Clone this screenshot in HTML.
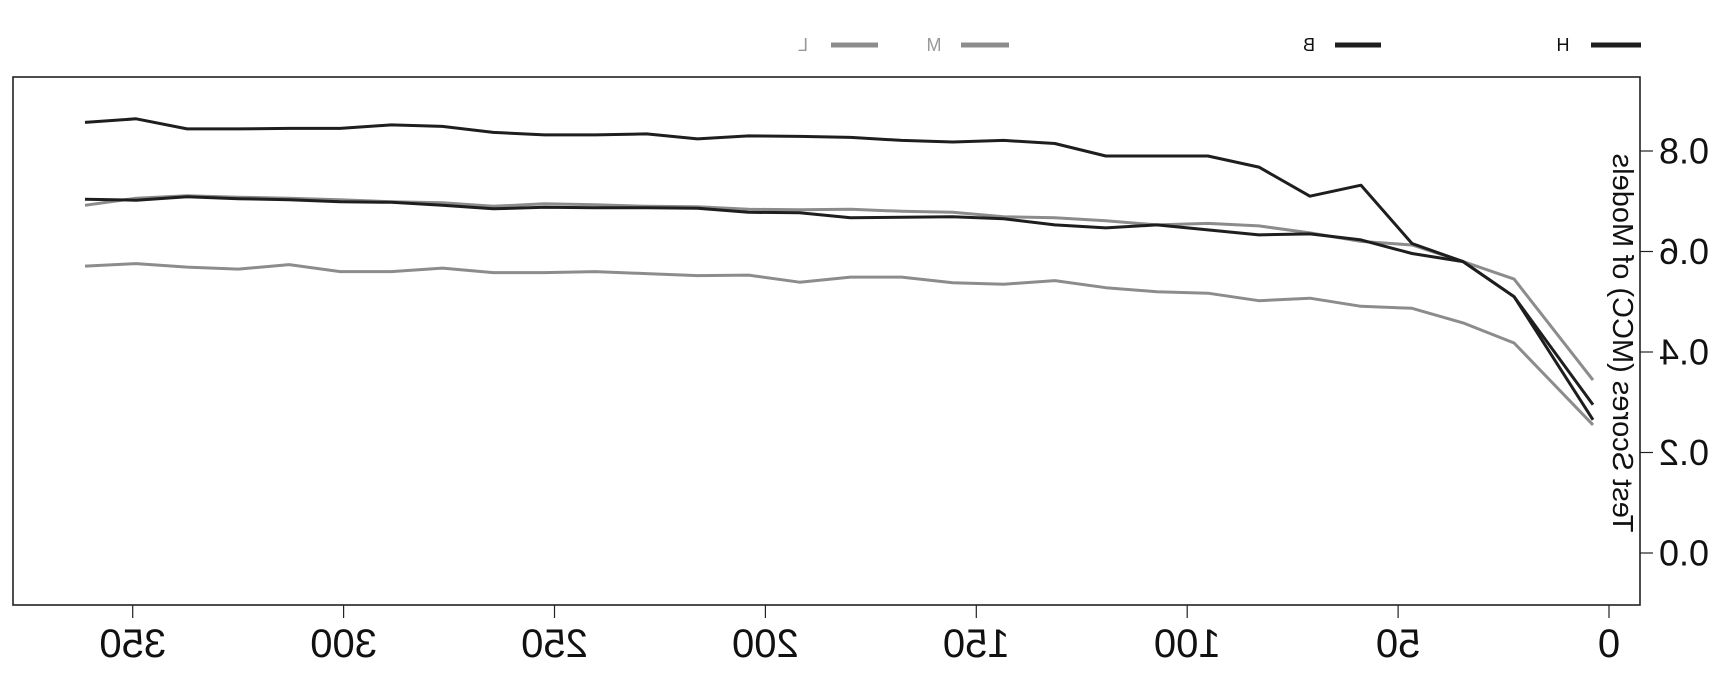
<!DOCTYPE html>
<html><head><meta charset="utf-8"><style>
html,body{margin:0;padding:0;background:#fff;}
svg{display:block;font-family:"Liberation Sans","DejaVu Sans",sans-serif;}
</style></head>
<body>
<svg id="chart" width="1732" height="696" viewBox="0 0 1732 696" xmlns="http://www.w3.org/2000/svg">
<rect x="13" y="77" width="1627" height="528" fill="none" stroke="#222" stroke-width="1.6"/>
<g id="axes"></g>
<g id="series"></g>
<g id="legend"></g>
</svg>
<script>
const xValues = [361.3,349.2,337.1,325.0,312.9,300.8,288.7,276.6,264.5,252.4,240.3,228.2,216.1,204.0,191.9,179.8,167.7,155.6,143.5,131.4,119.3,107.2,95.1,83.0,70.9,58.8,46.7,34.6,22.5,3.8];
const seriesH = [.857,.864,.844,.844,.845,.845,.852,.849,.837,.832,.832,.834,.824,.830,.829,.827,.821,.818,.821,.815,.790,.790,.790,.768,.710,.732,.616,.580,.510,.265];
const seriesB = [.704,.702,.709,.705,.703,.699,.698,.692,.685,.688,.687,.687,.686,.678,.677,.667,.668,.669,.665,.653,.647,.653,.643,.633,.635,.623,.596,.580,.510,.295];
const seriesM = [.692,.706,.711,.708,.706,.703,.699,.697,.690,.695,.693,.690,.689,.684,.683,.684,.680,.678,.669,.667,.661,.653,.656,.651,.637,.620,.613,.580,.545,.344];
const seriesL = [.571,.576,.569,.565,.574,.560,.560,.567,.558,.558,.560,.556,.552,.553,.539,.549,.549,.538,.535,.542,.528,.520,.517,.502,.507,.491,.487,.458,.418,.255];
const xTicks = [0,50,100,150,200,250,300,350];
const yTicks = [0.0,0.2,0.4,0.6,0.8];
const yTickLabels = ["0.0","0.2","0.4","0.6","0.8"];

const NS = "http://www.w3.org/2000/svg";
function xs(v){ return 1609 - 4.218*v; }
function ys(v){ return 553 - 502.5*v; }
function mk(tag, attrs, parent){ const e=document.createElementNS(NS,tag); for(const k in attrs) e.setAttribute(k,attrs[k]); parent.appendChild(e); return e; }
function mtext(str,x,y,size,fill,parent,extra){
  const t = mk('text',{x:0,y:0,'font-size':size,fill:fill,'text-anchor':'middle','dominant-baseline':'central',transform:`translate(${x},${y}) scale(-1,1)`+(extra||'')},parent);
  t.textContent = str; return t;
}
const axes = document.getElementById('axes');
xTicks.forEach(v=>{
  const l = mk('line',{x1:xs(v),x2:xs(v),y1:605,y2:618,stroke:'#222','stroke-width':1.2},axes);
  
  
  const t = mtext(String(v),xs(v),644,40,'#111',axes);
  
  
});
yTicks.forEach((v,i)=>{
  const l = mk('line',{x1:1640,x2:1653,y1:ys(v),y2:ys(v),stroke:'#222','stroke-width':1.2},axes);
  
  
  const t = mtext(yTickLabels[i],1684,ys(v),36,'#111',axes);
  
  
});
const yt = mtext('Test Scores (MCC) of Models',1622,343,29,'#111',axes,' rotate(-90)');



const sg = document.getElementById('series');
const defs = [['L',seriesL,'#8c8c8c'],['M',seriesM,'#8c8c8c'],['B',seriesB,'#1e1e1e'],['H',seriesH,'#1e1e1e']];
defs.forEach(([n,arr,c])=>{
  const d = arr.map((v,i)=>(i?'L':'M')+xs(xValues[i]).toFixed(1)+','+ys(v).toFixed(1)).join(' ');
  const p = mk('path',{d:d,fill:'none',stroke:c,'stroke-width':3,'stroke-linejoin':'round'},sg);
  
  
});

const lg = document.getElementById('legend');
const legendItems = [['H','#1e1e1e',1591,1641,1563],['B','#1e1e1e',1335,1381,1309],['M','#8c8c8c',961,1009,934],['L','#8c8c8c',831,878,803]];
legendItems.forEach(([n,c,x1,x2,tx])=>{
  const g = mk('g',{},lg);
  
  
  mk('line',{x1:x1,x2:x2,y1:45,y2:45,stroke:c,'stroke-width':5},g);
  mtext(n,tx,45,18,c==='#1e1e1e'?'#111':'#999',g);
});
</script>
</body></html>
